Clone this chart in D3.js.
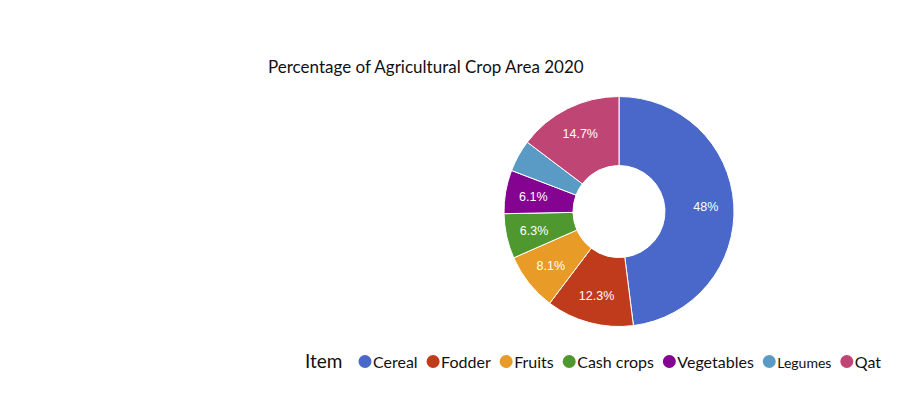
<!DOCTYPE html>
<html>
<head>
<meta charset="utf-8">
<script src="https://cdn.jsdelivr.net/npm/d3@7"></script>
<style>
  html, body { margin: 0; padding: 0; background: #fff; }
  #chart { width: 910px; height: 414px; }
</style>
</head>
<body>
<div id="chart"></div>
<script>
const WIDTH = 910;
const HEIGHT = 414;

const CENTER = { x: 619, y: 211.5 };
const OUTER_RADIUS = 115;
const INNER_RADIUS = 46;
const LABEL_RADIUS = 87;
const MIN_LABEL_SHARE = 5;

const categories = ["Cereal", "Fodder", "Fruits", "Cash crops", "Vegetables", "Legumes", "Qat"];
const shares = [48, 12.3, 8.1, 6.3, 6.1, 4.5, 14.7];
const shareLabels = ["48%", "12.3%", "8.1%", "6.3%", "6.1%", "", "14.7%"];
const colors = ["#4a68c9", "#bf3b1b", "#e89b26", "#4f982f", "#840391", "#5a9bc6", "#bf4674"];

const TITLE = "Percentage of Agricultural Crop Area 2020";
const LEGEND_TITLE = "Item";
const FONT = "Lato, 'Open Sans', sans-serif";

const slices = categories.map((name, i) => ({
  name,
  value: shares[i],
  label: shareLabels[i],
}));

const color = d3.scaleOrdinal().domain(categories).range(colors);

const svg = d3
  .select("#chart")
  .append("svg")
  .attr("width", WIDTH)
  .attr("height", HEIGHT)
  .attr("viewBox", `0 0 ${WIDTH} ${HEIGHT}`);

svg
  .append("text")
  .attr("x", 268)
  .attr("y", 72.5)
  .attr("font-family", FONT)
  .attr("font-size", "17px")
  .attr("fill", "#111")
  .text(TITLE);

const pie = d3
  .pie()
  .value((d) => d.value)
  .sort(null);

const arc = d3.arc().innerRadius(INNER_RADIUS).outerRadius(OUTER_RADIUS);
const labelArc = d3.arc().innerRadius(LABEL_RADIUS).outerRadius(LABEL_RADIUS);

const donut = svg.append("g").attr("transform", `translate(${CENTER.x},${CENTER.y})`);
const arcs = pie(slices);

donut
  .selectAll("path")
  .data(arcs)
  .join("path")
  .attr("d", arc)
  .attr("fill", (d) => color(d.data.name))
  .attr("stroke", "#fff")
  .attr("stroke-width", 1);

donut
  .selectAll("text")
  .data(arcs.filter((d) => d.data.value >= MIN_LABEL_SHARE))
  .join("text")
  .attr("transform", (d) => `translate(${labelArc.centroid(d)})`)
  .attr("text-anchor", "middle")
  .attr("dy", "0.36em")
  .attr("font-family", "'Liberation Sans', Arial, sans-serif")
  .attr("font-size", "12.5px")
  .attr("fill", "#fff")
  .text((d) => d.data.label);

// legend, laid out left to right from measured text widths
const legend = svg.append("g").attr("font-family", FONT);

legend
  .append("text")
  .attr("x", 305)
  .attr("y", 368)
  .attr("font-size", "19px")
  .attr("fill", "#111")
  .text(LEGEND_TITLE);

const LEGEND_START = 358.5;
const LEGEND_END = 881;
const DOT_R = 6.5;
const DOT_GAP = 1.5;

const items = legend
  .selectAll("g.item")
  .data(categories)
  .join("g")
  .attr("class", "item");

items
  .append("circle")
  .attr("r", DOT_R)
  .attr("cy", 361.5)
  .attr("fill", (d) => color(d));

items
  .append("text")
  .attr("y", 368)
  .attr("font-size", (d) => (d === "Legumes" ? "14px" : "16px"))
  .attr("fill", "#111")
  .text((d) => d);

const widths = [];
items.select("text").each(function () {
  widths.push(this.getComputedTextLength());
});
const natural = d3.sum(widths, (w) => DOT_R * 2 + DOT_GAP + w);
const spacing = (LEGEND_END - LEGEND_START - natural) / (categories.length - 1);

let cursor = LEGEND_START;
items.each(function (d, i) {
  const g = d3.select(this);
  g.select("circle").attr("cx", cursor + DOT_R);
  g.select("text").attr("x", cursor + DOT_R * 2 + DOT_GAP);
  cursor += DOT_R * 2 + DOT_GAP + widths[i] + spacing;
});
</script>
</body>
</html>
